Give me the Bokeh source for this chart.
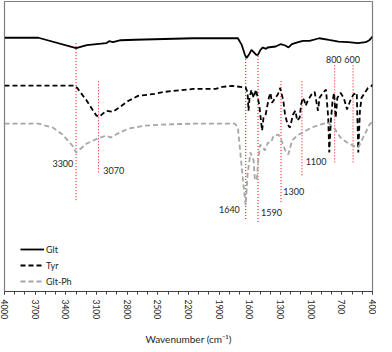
from bokeh.plotting import figure
from bokeh.models import Range1d, FixedTicker, Legend, LegendItem
from bokeh.core.properties import value
from bokeh.embed import file_html
from bokeh.resources import INLINE

# ---- data (wavenumber cm-1, offset transmittance in arbitrary units) ----
glt_wn = [4000, 3668, 3299, 3195, 3100, 3005, 2977, 2939, 2863, 2721, 2532, 2153, 1717, 1679,
          1648, 1632, 1610, 1584, 1562, 1537, 1521, 1496, 1473, 1458, 1442, 1426, 1347, 1300,
          1253, 1221, 1189, 1127, 1079, 1016, 921, 826, 732, 637, 542, 466, 428, 400]
glt_t = [255.5, 255.5, 245, 248, 249, 250, 252, 251, 253, 253.5, 254, 255, 255, 248.3,
         238.3, 235, 238.3, 243.3, 241, 238.3, 238.3, 243.3, 245.7, 245, 244.3, 245.7, 246.7, 249,
         247.7, 245.7, 249, 251, 252.3, 252.3, 255, 253.3, 251.7, 251, 250, 251, 253.3, 256.7]

tyr_wn = [4000, 3318, 3289, 3195, 3100, 3072, 3005, 2939, 2882, 2787, 2693, 2532, 2437, 2153,
          1935, 1868, 1774, 1641, 1622, 1613, 1603, 1584, 1563, 1540, 1508, 1491, 1480, 1466,
          1445, 1414, 1398, 1383, 1350, 1326, 1303, 1272, 1256, 1231, 1208, 1177, 1155, 1136,
          1113, 1098, 1082, 1066, 1054, 1028, 997, 966, 933, 918, 886, 855, 833, 823, 807, 791,
          776, 760, 744, 713, 681, 649, 618, 587, 554, 539, 523, 507, 476, 444, 412, 400]
tyr_t = [207.3, 207.3, 205, 192, 177, 176, 182, 181, 185, 192, 197, 199, 201, 204,
         204, 206, 207, 205.5, 200, 182, 195, 203, 195, 203.3, 188, 172, 162, 175,
         178.3, 195, 200, 190, 195, 198.3, 205, 192, 178.3, 168.3, 165, 178.3, 182, 172,
         175, 188.3, 195, 192, 187, 193.3, 198.3, 201, 182, 195, 200, 203.3, 175, 140, 172, 192,
         200, 175, 195, 200, 195, 183.3, 192, 198.3, 200, 140, 182, 195, 200, 205, 206.7, 208.3]

gltph_wn = [4000, 3668, 3526, 3432, 3337, 3299, 3195, 3091, 3005, 2958, 2892, 2787, 2626, 2465,
            2153, 1745, 1717, 1698, 1679, 1660, 1641, 1622, 1594, 1563, 1551, 1532, 1518, 1499,
            1470, 1452, 1423, 1395, 1366, 1319, 1290, 1253, 1224, 1186, 1139, 1082, 997, 902,
            839, 776, 713, 649, 587, 539, 492, 428, 400]
gltph_t = [169, 169, 165, 158, 147, 140, 149, 154, 157, 155, 159, 164, 167, 168,
           169, 169, 165, 145, 125, 105, 87, 118, 140, 132, 113, 112, 132, 148,
           145, 142, 150, 150, 157, 158, 152, 142, 138, 152, 157, 160, 165, 168.3,
           170, 165, 155, 150, 146.7, 145, 155, 168.3, 171]

series_names = ["Glt", "Tyr", "Glt-Ph"]

# assigned band markers
peak_labels = ["3300", "3070", "1640", "1590", "1300", "1100", "800", "600"]
peak_wn = [3300, 3080, 1640, 1520, 1295, 1090, 770, 590]
marker_top = [252, 213, 234, 238, 213, 213, 228, 228]
marker_bottom = [92, 120, 73, 70, 90, 117, 130, 130]
label_wn = [3327, 3034, 1698, 1490, 1272, 1054, 779, 599]
label_t = [129, 122, 83, 80, 101, 131, 234, 234]
label_align = ["right", "left", "right", "left", "left", "left", "center", "center"]

major_ticks = [4000, 3700, 3400, 3100, 2800, 2500, 2200, 1900, 1600, 1300, 1000, 700, 400]
minor_ticks = list(range(400, 4001, 100))

FONT = "Lato"

p = figure(frame_width=368, frame_height=290, output_backend="svg", toolbar_location=None,
           x_range=Range1d(4000, 400), y_range=Range1d(0, 292),
           min_border_left=4, min_border_right=4, min_border_top=1, min_border_bottom=0)
p.xgrid.visible = False
p.ygrid.visible = False
p.yaxis.visible = False
p.outline_line_color = "#7f7f7f"
p.outline_line_width = 1.2
p.background_fill_color = "white"
p.border_fill_color = "white"

ax = p.xaxis[0]
ax.ticker = FixedTicker(ticks=major_ticks, minor_ticks=minor_ticks)
ax.major_label_orientation = "vertical"
ax.axis_label = "Wavenumber (cm⁻¹)"
ax.axis_label_text_font = FONT
ax.axis_label_text_font_size = "10px"
ax.axis_label_text_font_style = "normal"
ax.axis_label_text_color = "#262626"
ax.axis_label_standoff = 11
ax.major_label_text_font = FONT
ax.major_label_text_font_size = "8.5px"
ax.major_label_text_color = "#262626"
ax.major_label_standoff = 5
ax.axis_line_color = "#404040"
ax.major_tick_line_color = "#404040"
ax.minor_tick_line_color = "#404040"
ax.major_tick_in = 0
ax.major_tick_out = 3
ax.minor_tick_in = 0
ax.minor_tick_out = 3

# band marker lines
p.segment(x0=peak_wn, y0=marker_bottom, x1=peak_wn, y1=marker_top,
          line_color="#ff0000", line_width=1, line_dash="1 2")

r1 = p.line(glt_wn, glt_t, line_color="black", line_width=1.8)
r2 = p.line(tyr_wn, tyr_t, line_color="black", line_width=1.8, line_dash="5 3")
r3 = p.line(gltph_wn, gltph_t, line_color="#a6a6a6", line_width=1.8, line_dash="5 3")

for lx, ly, lt, la in zip(label_wn, label_t, peak_labels, label_align):
    p.text(x=[lx], y=[ly], text=[lt], text_align=la, text_baseline="middle",
           text_font=value(FONT), text_font_size=value("9px"), text_color="#262626")

legend = Legend(items=[LegendItem(label=series_names[0], renderers=[r1]),
                       LegendItem(label=series_names[1], renderers=[r2]),
                       LegendItem(label=series_names[2], renderers=[r3])],
                location=(16, 2), orientation="vertical",
                border_line_alpha=0, background_fill_alpha=0,
                padding=0, margin=0, spacing=0,
                glyph_width=24, glyph_height=16, label_height=16, label_standoff=2,
                label_text_font=FONT, label_text_font_size="9px", label_text_color="#262626")
p.add_layout(legend, "center")

open("out.html", "w").write(file_html(p, INLINE))
